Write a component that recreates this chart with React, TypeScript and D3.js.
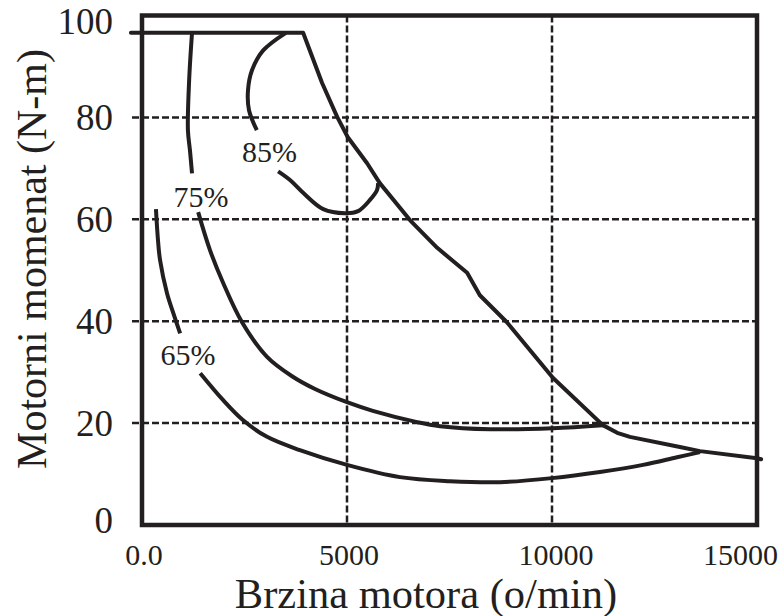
import React, { useRef, useEffect } from 'react';
import * as d3 from 'd3';

type Pt = [number, number];

const speedTicks = [0, 5000, 10000, 15000];
const speedTickLabels = ['0.0', '5000', '10000', '15000'];
const torqueTicks = [0, 20, 40, 60, 80, 100];
const speedGrid = [5000, 10000];
const torqueGrid = [20, 40, 60, 80];

// max torque / power limit curve
const limitCurve: Pt[] = [
  [-270, 96.6], [3930, 96.6], [4390, 86.8], [4760, 80.1], [5020, 76.1], [5490, 71.0],
  [5800, 67.1], [6540, 59.8], [7200, 54.4], [7930, 49.5], [8240, 45.1], [8900, 39.8],
  [10020, 28.9], [11240, 19.6], [11590, 18.1], [11900, 17.3],
  [13120, 15.3], [13610, 14.5], [15000, 13.1], [15100, 12.9],
];

// efficiency contours, split where the label sits
const eff85: Pt[][] = [
  [[3510, 96.6], [2950, 93.1], [2680, 89.2], [2585, 85.3], [2610, 81.4], [2800, 77.5]],
  [[3320, 69.4], [3610, 67.7], [3930, 65.2], [4420, 62.0], [4950, 61.2], [5270, 61.6],
   [5560, 63.8], [5730, 65.7], [5760, 67.1]],
];
const eff75: Pt[][] = [
  [[1220, 96.6], [1150, 87.3], [1120, 77.5], [1170, 73.5], [1220, 69.0]],
  [[1370, 61.4], [1660, 53.9], [1980, 47.5], [2440, 39.8], [3050, 33.0], [3660, 29.2],
   [4220, 26.7], [5000, 24.1], [5630, 22.4], [6710, 20.2], [7270, 19.4], [8490, 18.8],
   [10020, 19.0], [11240, 19.6]],
];
const eff65: Pt[][] = [
  [[340, 62.0], [390, 55.9], [440, 52.0], [610, 45.5], [780, 41.2], [930, 37.6]],
  [[1420, 29.8], [1980, 24.5], [2460, 20.6], [3050, 17.3], [3850, 14.7], [5000, 11.8],
   [6290, 9.4], [7510, 8.6], [8730, 8.4], [10000, 9.2], [11170, 10.4], [12220, 11.8],
   [13050, 13.3], [13610, 14.3]],
];
const effLabels = [
  { text: '85%', speed: 3110, torque: 73.4 },
  { text: '75%', speed: 1440, torque: 64.5 },
  { text: '65%', speed: 1120, torque: 33.5 },
];

export default function App() {
  const ref = useRef<SVGSVGElement | null>(null);

  useEffect(() => {
    const width = 783;
    const height = 616;
    const ink = '#231f20';
    const font = '"Liberation Serif", "Times New Roman", serif';

    const svg = d3.select(ref.current);
    svg.selectAll('*').remove();

    const x = d3.scaleLinear().domain([0, 15000]).range([142, 757]);
    const y = d3.scaleLinear().domain([0, 100]).range([525, 15.5]);

    // dashed grid
    svg.append('g')
      .selectAll('line')
      .data(speedGrid)
      .join('line')
      .attr('x1', d => x(d)).attr('x2', d => x(d))
      .attr('y1', y(100)).attr('y2', y(0))
      .attr('stroke', ink).attr('stroke-width', 2.5)
      .attr('stroke-dasharray', '7 3');

    svg.append('g')
      .selectAll('line')
      .data(torqueGrid)
      .join('line')
      .attr('x1', x(0) - 10).attr('x2', x(15000))
      .attr('y1', d => y(d)).attr('y2', d => y(d))
      .attr('stroke', ink).attr('stroke-width', 2.5)
      .attr('stroke-dasharray', '7 3');

    // frame
    svg.append('rect')
      .attr('x', x(0)).attr('y', y(100))
      .attr('width', x(15000) - x(0)).attr('height', y(0) - y(100))
      .attr('fill', 'none').attr('stroke', ink).attr('stroke-width', 4.5);

    const straight = d3.line<Pt>().x(d => x(d[0])).y(d => y(d[1]));
    const smooth = d3.line<Pt>().x(d => x(d[0])).y(d => y(d[1])).curve(d3.curveCatmullRom.alpha(0.5));

    svg.append('path')
      .attr('d', straight(limitCurve))
      .attr('fill', 'none').attr('stroke', ink).attr('stroke-width', 4)
      .attr('stroke-linejoin', 'round').attr('stroke-linecap', 'round');

    [...eff85, ...eff75, ...eff65].forEach(seg => {
      svg.append('path')
        .attr('d', smooth(seg))
        .attr('fill', 'none').attr('stroke', ink).attr('stroke-width', 4)
        .attr('stroke-linecap', 'butt');
    });

    svg.append('g')
      .selectAll('text')
      .data(effLabels)
      .join('text')
      .attr('x', d => x(d.speed)).attr('y', d => y(d.torque))
      .attr('text-anchor', 'middle').attr('dominant-baseline', 'central')
      .attr('font-family', font).attr('font-size', 30).attr('fill', ink)
      .text(d => d.text);

    // y tick labels
    svg.append('g')
      .selectAll('text')
      .data(torqueTicks)
      .join('text')
      .attr('x', 113)
      .attr('y', d => d === 100 ? y(d) + 6 : d === 0 ? y(d) - 5 : y(d))
      .attr('text-anchor', 'end').attr('dominant-baseline', 'central')
      .attr('font-family', font).attr('font-size', 37).attr('fill', ink)
      .text(d => String(d));

    // x tick labels
    svg.append('g')
      .selectAll('text')
      .data(speedTicks)
      .join('text')
      .attr('x', (d, i) => i === speedTicks.length - 1 ? 778 : x(d) + (i === 2 ? 4 : 2))
      .attr('y', 565)
      .attr('text-anchor', (d, i) => i === speedTicks.length - 1 ? 'end' : 'middle')
      .attr('font-family', font).attr('font-size', 30).attr('fill', ink)
      .text((d, i) => speedTickLabels[i]);

    svg.append('text')
      .attr('x', 426).attr('y', 608)
      .attr('text-anchor', 'middle')
      .attr('font-family', font).attr('font-size', 42.5).attr('fill', ink)
      .text('Brzina motora (o/min)');

    svg.append('text')
      .attr('transform', `translate(46, 259) rotate(-90)`)
      .attr('text-anchor', 'middle')
      .attr('font-family', font).attr('font-size', 42).attr('fill', ink)
      .text('Motorni momenat (N-m)');

    svg.attr('width', width).attr('height', height);
  }, []);

  return (
    <svg ref={ref} width={783} height={616} style={{ position: 'absolute', left: 0, top: 0, background: '#fff' }} />
  );
}
